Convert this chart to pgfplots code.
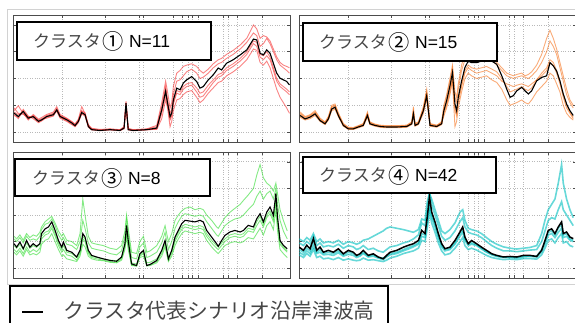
\documentclass[border=0pt]{standalone}
\usepackage{graphicx}
\usepackage{pgfplots}
\pgfplotsset{compat=1.18}
\usepackage{pgfplotstable}
\usepackage{fontspec}
\setmainfont{Liberation Sans}
\newfontfamily\jp{Noto Sans CJK JP}
\definecolor{ensR}{RGB}{245,50,50}
\definecolor{ensO}{RGB}{245,115,30}
\definecolor{ensG}{RGB}{50,220,50}
\definecolor{ensC}{RGB}{0,190,190}
\definecolor{jpgray}{RGB}{70,70,70}

\pgfplotstableread{
x     k     a     b     c     d     e
0.4   0.71  0.80  0.62  0.75  0.68  0.90
1.9   0.58  0.98  0.55  0.65  0.50  0.70
3.7   0.77  0.70  0.85  0.72  0.80  0.66
5.5   0.52  0.48  0.60  0.45  0.58  0.55
7.3   0.58  0.62  0.50  0.66  0.55  0.60
9.2   0.40  0.45  0.35  0.48  0.38  0.42
10.4  0.46  0.50  0.42  0.55  0.44  0.48
12.2  0.58  0.62  0.55  0.66  0.60  0.52
14.6  0.65  0.70  0.62  0.75  0.68  0.60
15.8  0.83  0.88  0.80  0.95  0.78  0.85
17.0  0.58  0.60  0.55  0.66  0.52  0.62
19.4  0.46  0.50  0.42  0.52  0.40  0.48
21.2  0.34  0.38  0.30  0.40  0.28  0.36
22.4  0.24  0.28  0.20  0.30  0.22  0.26
23.6  0.40  0.45  0.35  0.48  0.38  0.42
24.8  0.73  0.80  0.68  0.95  0.70  0.78
26.0  0.65  0.72  0.60  0.70  0.62  0.68
27.2  0.21  0.25  0.18  0.28  0.20  0.24
28.4  0.09  0.12  0.08  0.14  0.10  0.11
31.4  0.06  0.08  0.05  0.10  0.07  0.06
35.0  0.09  0.11  0.08  0.12  0.10  0.09
38.6  0.06  0.08  0.05  0.09  0.07  0.06
40.1  0.15  0.18  0.12  0.20  0.14  0.16
40.8  1.08  1.10  1.00  1.15  1.05  0.95
41.6  0.09  0.12  0.08  0.14  0.10  0.11
43.4  0.06  0.08  0.05  0.09  0.07  0.06
48.3  0.09  0.11  0.08  0.12  0.10  0.09
51.9  0.15  0.20  0.12  0.25  0.15  0.10
53.7  0.83  0.95  0.70  1.10  0.80  0.50
55.1  1.52  1.70  1.40  1.90  1.60  1.20
55.8  1.08  1.20  0.95  1.50  1.10  0.90
56.7  0.58  0.70  0.45  0.90  0.50  0.20
57.3  0.71  0.85  0.60  1.10  0.65  0.40
57.9  1.20  1.40  1.05  1.70  1.10  0.80
59.1  1.64  1.90  1.45  2.20  1.55  1.20
60.3  1.58  1.95  1.40  2.30  1.50  1.25
61.5  1.83  2.10  1.60  2.45  1.70  1.40
62.7  1.95  2.25  1.70  2.50  1.80  1.50
64.5  2.07  2.35  1.75  2.55  1.85  1.55
66.3  1.89  2.20  1.50  2.45  1.65  1.30
67.5  1.64  2.00  1.30  2.30  1.45  1.10
68.7  1.70  2.05  1.35  2.20  1.50  1.20
70.5  1.95  2.20  1.60  2.35  1.75  1.45
72.3  2.14  2.40  1.85  2.55  1.95  1.65
74.1  2.39  2.55  2.05  2.70  2.15  1.85
75.3  2.32  2.60  2.10  2.75  2.20  1.90
77.1  2.57  2.75  2.30  2.90  2.40  2.10
79.5  2.70  2.90  2.45  3.05  2.55  2.25
82.0  2.88  3.10  2.65  3.25  2.75  2.45
84.4  3.07  3.35  2.90  3.50  3.00  2.70
86.8  3.47  3.70  3.30  4.00  3.40  3.10
88.0  3.44  3.60  3.20  3.85  3.35  3.05
89.2  2.94  3.20  2.80  3.50  2.90  2.60
90.4  2.88  3.30  2.70  3.60  2.85  2.50
91.6  3.07  3.50  2.85  3.55  3.00  2.65
92.8  2.94  3.30  2.70  3.40  2.80  2.40
94.0  2.57  3.00  2.30  3.10  2.40  2.00
95.2  2.20  2.70  1.90  2.80  2.00  1.60
96.4  2.01  2.50  1.70  2.60  1.80  1.30
97.6  1.95  2.40  1.60  2.50  1.70  1.10
98.8  1.89  2.30  1.50  2.45  1.60  0.90
99.8  1.76  2.20  1.40  2.40  1.50  0.70
}\tA

\pgfplotstableread{
x     k     a     b     c     d     e
0.4   0.62  0.70  0.55  0.66  0.60  0.75
2.2   0.49  0.55  0.45  0.52  0.48  0.58
4.0   0.56  0.62  0.50  0.60  0.54  0.65
5.8   0.68  0.75  0.62  0.72  0.66  0.80
7.6   0.43  0.48  0.40  0.46  0.42  0.52
9.4   0.31  0.36  0.28  0.34  0.30  0.38
10.6  0.49  0.55  0.45  0.52  0.48  0.58
11.8  0.86  0.95  0.80  0.92  0.84  1.00
13.0  0.93  1.00  0.85  0.98  0.90  1.05
14.2  0.62  0.68  0.58  0.66  0.60  0.72
16.0  0.25  0.30  0.22  0.28  0.24  0.32
17.8  0.12  0.16  0.10  0.14  0.12  0.18
19.6  0.12  0.15  0.10  0.14  0.11  0.17
21.4  0.19  0.22  0.16  0.21  0.18  0.24
23.2  0.25  0.30  0.22  0.28  0.24  0.32
24.7  0.62  0.70  0.55  0.75  0.60  0.68
25.6  0.31  0.36  0.28  0.34  0.30  0.38
27.4  0.25  0.28  0.22  0.27  0.24  0.30
29.2  0.21  0.24  0.18  0.23  0.20  0.26
31.6  0.19  0.22  0.16  0.21  0.18  0.24
35.3  0.19  0.22  0.16  0.21  0.18  0.24
38.9  0.21  0.24  0.18  0.23  0.20  0.26
40.7  0.31  0.36  0.28  0.34  0.30  0.38
41.3  0.68  0.80  0.60  0.95  0.65  0.75
41.9  0.25  0.30  0.22  0.28  0.24  0.32
43.1  0.31  0.36  0.28  0.34  0.30  0.38
44.9  0.80  0.90  0.70  0.95  0.78  0.85
46.1  1.36  1.50  1.25  1.60  1.30  1.45
47.3  0.25  0.30  0.22  0.28  0.24  0.32
49.7  0.21  0.24  0.18  0.23  0.20  0.26
51.5  0.31  0.36  0.28  0.40  0.30  0.34
52.3  0.80  0.90  0.70  1.00  0.75  0.60
53.3  1.17  1.30  1.00  1.40  1.10  0.90
54.5  1.73  1.90  1.50  2.00  1.60  1.40
55.4  2.22  2.40  2.00  2.50  2.10  1.90
56.3  1.05  1.30  0.80  1.50  0.90  0.20
56.9  0.80  1.10  0.60  1.30  0.70  0.40
57.5  1.30  1.60  1.10  1.80  1.20  0.90
58.7  1.91  2.30  1.70  2.50  1.80  1.50
59.9  2.41  2.70  2.20  2.90  2.30  2.00
61.1  2.65  2.90  2.40  3.05  2.50  2.20
62.3  2.59  2.85  2.30  3.00  2.40  2.10
64.1  2.59  2.80  2.20  2.95  2.35  2.00
65.9  2.65  2.85  2.25  2.90  2.40  2.05
67.7  2.72  2.80  2.30  2.85  2.45  2.10
69.6  2.65  2.70  2.20  2.75  2.35  1.95
71.4  2.53  2.50  2.10  2.60  2.25  1.85
73.2  2.10  2.30  1.90  2.40  2.00  1.60
75.0  1.60  2.10  1.80  2.20  1.70  1.20
76.2  1.30  2.05  1.75  2.15  1.50  1.00
77.4  1.36  2.00  1.70  2.10  1.55  1.05
78.6  1.54  2.05  1.75  2.15  1.60  1.10
80.4  1.67  2.10  1.80  2.20  1.70  1.20
81.6  1.54  2.05  1.75  2.10  1.60  1.10
82.8  1.42  2.00  1.70  2.15  1.55  1.05
84.0  1.54  2.10  1.80  2.25  1.65  1.20
85.8  1.91  2.30  1.95  2.50  1.95  1.50
87.6  2.04  2.60  2.20  2.90  2.10  1.70
89.4  2.10  3.00  2.40  3.50  2.30  1.90
90.6  2.59  3.40  2.70  3.80  2.60  2.20
91.8  2.47  3.20  2.60  3.50  2.50  2.10
93.0  2.28  2.90  2.30  3.10  2.20  1.80
94.2  1.91  2.40  1.90  2.60  1.80  1.50
95.4  1.42  1.90  1.40  2.10  1.30  1.00
96.6  1.05  1.40  1.00  1.60  0.90  0.70
97.8  0.80  1.10  0.75  1.20  0.70  0.55
99.0  0.62  0.90  0.55  1.00  0.50  0.45
}\tB

\pgfplotstableread{
x     k     a     b     c     d     e
0.4   0.92  1.10  0.70  1.20  0.85  0.60
1.3   0.79  1.00  0.60  1.10  0.75  0.50
2.5   0.98  1.15  0.75  1.25  0.90  0.65
3.7   0.73  0.95  0.55  1.05  0.70  0.45
4.9   1.04  1.20  0.80  1.30  0.95  0.70
6.1   0.79  1.05  0.60  1.15  0.75  0.50
7.3   0.92  1.10  0.70  1.25  0.85  0.55
8.5   0.82  1.05  0.62  1.20  0.78  0.50
9.7   0.92  1.20  0.75  1.35  0.90  0.60
10.3  1.30  1.45  1.10  1.55  1.20  0.90
11.6  1.48  1.65  1.25  1.75  1.35  1.05
12.8  1.55  1.70  1.30  1.85  1.40  1.10
14.0  1.74  1.85  1.50  1.95  1.60  1.30
15.2  1.42  1.60  1.20  1.70  1.30  1.00
16.4  1.04  1.25  0.85  1.40  0.95  0.70
17.6  0.79  1.05  0.60  1.20  0.70  0.45
18.2  0.98  1.15  0.70  1.30  0.85  0.50
19.4  0.67  0.90  0.50  1.05  0.60  0.35
21.2  0.60  0.85  0.45  1.00  0.55  0.30
23.0  0.42  0.70  0.30  0.85  0.40  0.25
24.2  0.67  1.00  0.55  1.30  0.60  0.45
25.2  1.30  1.80  1.10  2.60  1.20  0.90
26.0  1.17  1.50  1.00  2.00  1.10  0.80
27.2  0.67  0.95  0.55  1.20  0.60  0.45
28.4  0.48  0.75  0.40  0.95  0.45  0.35
30.2  0.42  0.70  0.35  0.90  0.40  0.30
32.6  0.35  0.65  0.30  0.85  0.35  0.28
35.0  0.29  0.55  0.25  0.75  0.30  0.22
37.4  0.26  0.50  0.22  0.70  0.28  0.20
39.2  0.42  0.65  0.35  0.85  0.40  0.30
40.4  0.92  1.20  0.80  1.40  0.90  0.70
41.0  1.61  1.85  1.40  2.00  1.50  1.20
41.6  1.04  1.30  0.85  1.50  0.95  0.70
42.8  0.16  0.40  0.12  0.60  0.20  0.10
44.6  0.10  0.35  0.08  0.55  0.15  0.08
45.8  0.54  0.80  0.45  1.00  0.50  0.40
47.1  0.67  0.95  0.55  1.20  0.60  0.45
48.3  0.10  0.40  0.10  0.60  0.20  0.08
49.5  0.14  0.45  0.12  0.65  0.22  0.10
51.9  0.29  0.60  0.25  0.85  0.35  0.20
53.7  0.67  0.95  0.55  1.20  0.65  0.45
54.9  1.04  1.35  0.90  1.60  1.00  0.80
56.1  0.35  0.70  0.30  1.00  0.40  0.25
57.3  0.67  1.00  0.55  1.30  0.65  0.45
58.5  1.17  1.50  1.00  1.80  1.10  0.85
59.7  1.42  1.75  1.25  2.00  1.35  1.10
60.9  1.67  1.95  1.45  2.15  1.55  1.30
62.1  1.80  2.05  1.55  2.25  1.65  1.40
63.9  1.77  2.00  1.50  2.30  1.60  1.35
65.7  1.74  1.95  1.45  2.20  1.55  1.30
67.5  1.80  2.00  1.50  2.25  1.60  1.35
68.7  1.74  1.95  1.45  2.20  1.55  1.30
69.9  1.42  1.75  1.20  2.00  1.30  1.05
71.7  1.17  1.50  0.95  1.80  1.05  0.80
73.5  0.92  1.25  0.75  1.55  0.85  0.60
74.1  0.82  1.20  0.70  1.50  0.80  0.55
75.3  1.04  1.40  0.85  1.70  0.95  0.70
76.5  1.23  1.60  1.00  1.90  1.10  0.85
78.3  1.36  1.75  1.15  2.10  1.25  0.95
80.1  1.42  1.85  1.20  2.25  1.30  1.00
82.0  1.36  1.90  1.15  2.40  1.25  0.95
83.2  1.42  2.00  1.20  2.55  1.30  1.00
84.9  1.61  2.20  1.40  2.75  1.50  1.15
86.8  1.55  2.40  1.35  3.00  1.45  1.10
88.0  1.86  2.70  1.60  3.50  1.75  1.30
89.2  2.05  2.90  1.80  3.90  1.95  1.50
90.4  1.74  2.60  1.55  3.40  1.65  1.25
91.6  2.11  2.80  1.90  3.20  2.00  1.60
92.8  2.30  2.90  2.05  3.10  2.15  1.75
94.0  1.99  2.60  1.75  2.90  1.85  1.45
94.9  2.81  3.00  2.50  3.20  2.60  2.20
95.5  1.92  2.40  1.70  2.80  1.80  1.40
96.4  1.04  1.80  0.90  2.20  1.00  0.70
97.6  0.86  1.40  0.75  1.80  0.80  0.55
99.0  0.73  1.10  0.60  1.40  0.65  0.40
}\tC

\pgfplotstableread{
x     k     a     b     c     d     e
0.1   0.79  0.95  0.60  1.10  0.70  0.50
1.6   0.67  0.85  0.50  1.00  0.60  0.40
2.8   0.86  1.00  0.65  1.15  0.75  0.55
4.0   0.73  0.90  0.55  1.05  0.65  0.45
5.2   1.11  1.20  0.80  1.30  0.95  0.70
6.4   0.67  0.85  0.55  1.00  0.60  0.40
7.6   0.79  0.95  0.60  1.10  0.70  0.45
8.8   0.60  0.80  0.50  0.95  0.55  0.35
10.6  0.67  0.85  0.52  1.00  0.60  0.38
12.4  0.60  0.80  0.48  0.95  0.55  0.32
14.2  0.73  0.90  0.58  1.05  0.65  0.40
16.0  0.54  0.75  0.45  0.90  0.50  0.30
17.8  0.67  0.85  0.52  1.00  0.60  0.35
19.6  0.60  0.80  0.48  0.95  0.55  0.30
20.8  0.48  0.70  0.40  0.90  0.45  0.28
22.0  0.54  0.75  0.45  0.95  0.50  0.30
23.2  0.67  0.85  0.55  1.05  0.60  0.38
25.0  0.48  0.70  0.42  1.10  0.45  0.30
26.8  0.54  0.75  0.45  1.20  0.50  0.32
28.6  0.42  0.65  0.38  1.30  0.40  0.28
30.4  0.35  0.60  0.32  1.40  0.38  0.25
31.6  0.48  0.70  0.42  1.50  0.45  0.30
32.9  0.60  0.80  0.50  1.55  0.55  0.38
35.3  0.67  0.85  0.55  1.50  0.60  0.45
37.7  0.79  0.95  0.65  1.45  0.70  0.55
39.5  0.86  1.00  0.72  1.40  0.78  0.60
41.3  0.92  1.10  0.80  1.35  0.85  0.65
43.1  1.04  1.25  0.90  1.45  0.95  0.75
44.3  1.42  1.70  1.20  1.85  1.30  1.05
45.5  1.30  1.60  1.15  1.80  1.25  1.00
46.3  1.92  2.20  1.70  2.50  1.80  1.50
47.1  2.68  2.90  2.30  2.80  2.40  2.10
47.9  2.11  2.40  1.90  2.60  2.00  1.70
49.1  1.74  2.00  1.55  2.20  1.65  1.35
50.3  1.30  1.60  1.15  1.80  1.20  0.95
51.5  0.92  1.20  0.80  1.40  0.85  0.65
52.7  0.73  1.05  0.65  1.30  0.70  0.50
54.5  0.79  1.15  0.70  1.45  0.75  0.55
56.3  1.04  1.40  0.90  1.70  0.95  0.75
58.1  1.36  1.75  1.20  2.10  1.30  1.00
59.1  1.55  1.90  1.35  2.20  1.45  1.15
59.9  1.17  1.55  1.05  1.80  1.10  0.85
61.1  0.92  1.35  0.85  1.50  0.90  0.70
62.3  1.04  1.30  0.90  1.45  0.95  0.75
64.1  0.92  1.25  0.85  1.40  0.88  0.68
65.9  0.79  1.15  0.72  1.30  0.75  0.58
67.7  0.67  1.00  0.60  1.15  0.62  0.48
69.6  0.54  0.85  0.50  1.00  0.52  0.40
71.4  0.48  0.75  0.44  0.90  0.46  0.36
73.8  0.42  0.65  0.40  0.80  0.42  0.32
76.2  0.44  0.65  0.40  0.75  0.42  0.34
78.6  0.42  0.62  0.38  0.72  0.40  0.32
81.0  0.48  0.65  0.42  0.75  0.45  0.36
83.4  0.48  0.68  0.44  0.78  0.46  0.36
85.8  0.44  0.70  0.42  0.85  0.45  0.34
87.6  0.67  1.00  0.60  1.30  0.70  0.50
88.8  1.04  1.40  0.90  1.80  1.00  0.75
90.0  1.42  1.80  1.25  2.20  1.35  1.05
91.2  1.48  1.90  1.30  2.40  1.40  1.10
92.4  1.30  1.85  1.15  2.60  1.25  0.95
93.6  1.55  2.20  1.35  3.20  1.50  1.15
94.8  1.74  2.50  1.50  3.90  1.65  1.30
95.4  1.30  2.20  1.15  3.20  1.25  0.95
96.6  1.36  2.00  1.20  2.60  1.30  1.00
97.8  1.17  1.80  1.05  2.20  1.10  0.85
99.0  1.11  1.60  1.00  1.90  1.05  0.80
}\tD

\pgfplotsset{
  panel/.style={
    scale only axis, width=277pt, height=127pt,
    xmin=0, xmax=100, ymin=-0.37, ymax=4.37,
    xtick={17.7,33.2,45.5,46.9,57.8,61.0,63.2,64.6,66.8,75.8,77.6,80.9,89.9},
    ytick={0,1,2,3,4},
    xticklabels={}, yticklabels={},
    grid=major,
    major grid style={gray!55, dotted, line width=0.7pt},
    tick style={gray!60!black, line width=0.5pt},
    major tick length=3pt, tick align=inside,
    axis line style={gray!60!black, line width=0.8pt},
    anchor=south west,
  },
  ens/.style={line width=0.9pt, opacity=0.6},
  rep/.style={black, line width=1.1pt},
}

\begin{document}
\begin{tikzpicture}[x=1pt,y=1pt]
\path[use as bounding box] (0,0) rectangle (575,323);
% outer light frame
\draw[gray!35, line width=0.8pt] (590,314) -- (7,314) -- (7,39) -- (590,39);

\begin{axis}[panel, at={(13pt,181pt)}]
\foreach \c in {a,b,c,d,e} {\addplot[ens, ensR] table[x=x,y=\c]{\tA};}
\addplot[rep] table[x=x,y=k]{\tA};
\end{axis}

\begin{axis}[panel, at={(299pt,181pt)}]
\foreach \c in {a,b,c,d,e} {\addplot[ens, ensO] table[x=x,y=\c]{\tB};}
\addplot[rep] table[x=x,y=k]{\tB};
\end{axis}

\begin{axis}[panel, height=126pt, at={(13pt,45pt)}]
\foreach \c in {a,b,c,d,e} {\addplot[ens, ensG] table[x=x,y=\c]{\tC};}
\addplot[rep] table[x=x,y=k]{\tC};
\end{axis}

\begin{axis}[panel, height=126pt, at={(299pt,45pt)}]
\foreach \c in {a,b,c,d,e} {\addplot[ens, ensC, line width=1.6pt, opacity=0.6] table[x=x,y=\c]{\tD};}
\addplot[rep, line width=1.5pt] table[x=x,y=k]{\tD};
\end{axis}

% label boxes
\newcommand\lab[1]{\fontsize{17}{20}\selectfont{\jp\color{jpgray}クラスタ}\hspace{2pt}\raisebox{-1.5pt}{\scalebox{1.25}{\jp #1}}\hspace{5pt}}
\draw[black, line width=1.2pt, fill=white] (17,301) rectangle (211,263);
\node[anchor=west, inner sep=0] at (33,282) {\lab{①}{\fontsize{17.5}{20}\selectfont N=11}};
\draw[black, line width=1.2pt, fill=white] (303,300) rectangle (497,262);
\node[anchor=west, inner sep=0] at (319,281) {\lab{②}{\fontsize{17.5}{20}\selectfont N=15}};
\draw[black, line width=1.2pt, fill=white] (15,164) rectangle (210,127);
\node[anchor=west, inner sep=0] at (32,145) {\lab{③}{\fontsize{17.5}{20}\selectfont N=8}};
\draw[black, line width=1.2pt, fill=white] (303,166) rectangle (496,130);
\node[anchor=west, inner sep=0] at (319,148) {\lab{④}{\fontsize{17.5}{20}\selectfont N=42}};

% legend
\draw[black, line width=1.6pt] (10,-10) rectangle (388,37);
\draw[black, line width=2.2pt] (22,11) -- (43,11);
\node[anchor=west, inner sep=0] at (63,12) {\fontsize{20.8}{22}\selectfont\jp\color{jpgray}クラスタ代表シナリオ沿岸津波高};
\end{tikzpicture}
\end{document}
